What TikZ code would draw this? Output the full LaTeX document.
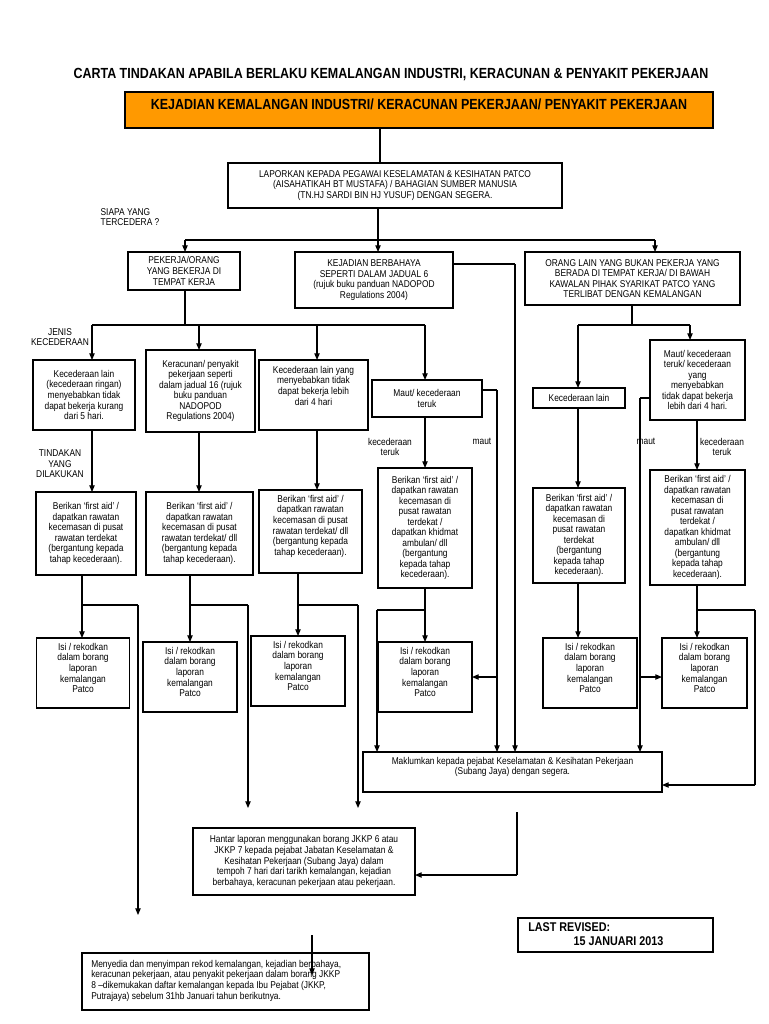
\documentclass[tikz,border=0pt]{standalone}
\usepackage{fontspec}
\setmainfont{Liberation Sans}[FakeStretch=0.85]
\usetikzlibrary{arrows.meta}
\definecolor{orng}{HTML}{FF9900}
\begin{document}
\begin{tikzpicture}[x=0.75pt,y=-0.75pt,
  box/.style={draw,line width=0.8pt,align=center,inner sep=0pt,font=\fontsize{7.4}{7.9}\selectfont},
  lbl/.style={align=center,inner sep=0pt,font=\fontsize{7.4}{7.9}\selectfont},
  ln/.style={line width=0.8pt},
  ar/.style={line width=0.8pt,-{Triangle[length=5pt,width=4pt]}},
  wh/.style 2 args={minimum width=#1*0.75pt,minimum height=#2*0.75pt}]
\useasboundingbox (0,0) rectangle (768,1024);
\node[inner sep=0pt,font=\fontsize{11}{12}\bfseries\selectfont] (title) at (391,75) {CARTA TINDAKAN APABILA BERLAKU KEMALANGAN INDUSTRI, KERACUNAN \& PENYAKIT PEKERJAAN};
\node[box,fill=orng,wh={588}{36}] (or) at (419,110) {};
\node[inner sep=0pt,font=\fontsize{11}{12}\bfseries\selectfont] (ort) at (419,104) {KEJADIAN KEMALANGAN INDUSTRI/ KERACUNAN PEKERJAAN/ PENYAKIT PEKERJAAN};
\node[box,wh={334}{45}] (lap) at (395,185.5) {LAPORKAN KEPADA PEGAWAI KESELAMATAN \& KESIHATAN PATCO\\(AISAHATIKAH BT MUSTAFA) / BAHAGIAN SUMBER MANUSIA\\(TN.HJ SARDI BIN HJ YUSUF) DENGAN SEGERA.};
\node[lbl,align=left] (siapa) at (130,217) {SIAPA YANG\\TERCEDERA ?};
\node[box,wh={112}{38}] (A) at (184,271) {PEKERJA/ORANG\\YANG BEKERJA DI\\TEMPAT KERJA};
\node[box,wh={158}{56}] (B) at (374,280) {KEJADIAN BERBAHAYA\\SEPERTI DALAM JADUAL 6\\(rujuk buku panduan NADOPOD\\Regulations 2004)};
\node[box,wh={215}{53}] (C) at (632.5,278.5) {ORANG LAIN YANG BUKAN PEKERJA YANG\\BERADA DI TEMPAT KERJA/ DI BAWAH\\KAWALAN PIHAK SYARIKAT PATCO YANG\\TERLIBAT DENGAN KEMALANGAN};
\node[lbl] (jenis) at (60,337) {JENIS\\KECEDERAAN};
\node[box,wh={102}{70}] (K1) at (84,395) {Kecederaan lain\\(kecederaan ringan)\\menyebabkan tidak\\dapat bekerja kurang\\dari 5 hari.};
\node[box,wh={109}{82}] (K2) at (200.5,391) {Keracunan/ penyakit\\pekerjaan seperti\\dalam jadual 16 (rujuk\\buku panduan\\NADOPOD\\Regulations 2004)};
\node[box,wh={109}{70}] (K3) at (313.5,395) {};
\node[lbl,anchor=north] (K3t) at (313.5,366) {Kecederaan lain yang\\menyebabkan tidak\\dapat bekerja lebih\\dari 4 hari};
\node[box,wh={110}{37}] (M1) at (427,398.5) {Maut/ kecederaan\\teruk};
\node[lbl] (tind) at (60,464) {TINDAKAN\\YANG\\DILAKUKAN};
\node[lbl] (kt1) at (390,447) {kecederaan\\teruk};
\node[lbl] (maut1) at (482,441) {maut};
\node[box,wh={100}{83}] (F1) at (86,533.5) {Berikan `first aid' /\\dapatkan rawatan\\kecemasan di pusat\\rawatan terdekat\\(bergantung kepada\\tahap kecederaan).};
\node[box,wh={107}{83}] (F2) at (199.5,533.5) {Berikan `first aid' /\\dapatkan rawatan\\kecemasan di pusat\\rawatan terdekat/ dll\\(bergantung kepada\\tahap kecederaan).};
\node[box,wh={103}{83}] (F3) at (310.5,531.5) {};
\node[lbl,anchor=north] (F3t) at (310.5,495) {Berikan `first aid' /\\dapatkan rawatan\\kecemasan di pusat\\rawatan terdekat/ dll\\(bergantung kepada\\tahap kecederaan).};
\node[box,wh={94}{120}] (F4) at (425,528) {Berikan `first aid' /\\dapatkan rawatan\\kecemasan di\\pusat rawatan\\terdekat /\\dapatkan khidmat\\ambulan/ dll\\(bergantung\\kepada tahap\\kecederaan).};
\node[box,wh={92}{20}] (KL2) at (579,398) {Kecederaan lain};
\node[box,wh={95}{80}] (M2) at (697.5,380) {Maut/ kecederaan\\teruk/ kecederaan\\yang\\menyebabkan\\tidak dapat bekerja\\lebih dari 4 hari.};
\node[lbl] (maut2) at (646,441) {maut};
\node[lbl] (kt2) at (722,447) {kecederaan\\teruk};
\node[box,wh={92}{95}] (F5) at (579,535.5) {Berikan `first aid' /\\dapatkan rawatan\\kecemasan di\\pusat rawatan\\terdekat\\(bergantung\\kepada tahap\\kecederaan).};
\node[box,wh={95}{115}] (F6) at (697.5,527.5) {Berikan `first aid' /\\dapatkan rawatan\\kecemasan di\\pusat rawatan\\terdekat /\\dapatkan khidmat\\ambulan/ dll\\(bergantung\\kepada tahap\\kecederaan).};
\foreach \n/\x/\y/\w in {I1/83/673/93, I2/190/677/94, I3/298/671/94, I4/425/677/94, I5/590/673/94, I6/704.5/673/85}{
  \node[box,wh={\w}{70}] (\n) at (\x,\y) {};
  \node[lbl,anchor=north] (\n t) at (\x,\y-30) {Isi / rekodkan\\dalam borang\\laporan\\kemalangan\\Patco};}
\node[box,wh={299}{40}] (mak) at (512.5,772) {};
\node[lbl,anchor=north] (makt) at (512.5,757) {Maklumkan kepada pejabat Keselamatan \& Kesihatan Pekerjaan\\(Subang Jaya)  dengan segera.};
\node[box,wh={222}{67}] (han) at (304,861.5) {Hantar laporan menggunakan borang JKKP 6 atau\\JKKP 7 kepada pejabat Jabatan Keselamatan \&\\Kesihatan Pekerjaan (Subang Jaya)  dalam\\tempoh 7 hari dari tarikh kemalangan, kejadian\\berbahaya, keracunan pekerjaan atau pekerjaan.};
\node[box,wh={195}{34}] (last) at (615.5,935) {};
\node[inner sep=0pt,anchor=north west,align=left,font=\fontsize{9.5}{11}\bfseries\selectfont] (lastt) at (528,922) {LAST REVISED:\\\hspace*{34pt}15 JANUARI 2013};
\node[box,wh={287}{57}] (meny) at (225.5,981.5) {};
\node[lbl,anchor=north west,align=left] (menyt) at (91,960) {Menyedia dan menyimpan rekod kemalangan, kejadian berbahaya,\\keracunan pekerjaan, atau penyakit pekerjaan dalam borang JKKP\\8 --dikemukakan daftar kemalangan kepada Ibu Pejabat (JKKP,\\Putrajaya) sebelum 31hb Januari tahun berikutnya.};
% connectors
\draw[ln] (380,128) -- (380,163);
\draw[ln] (378,208) -- (378,240);
\draw[ln] (185,240) -- (655,240);
\draw[ar] (185,240) -- (185,252);
\draw[ar] (378,240) -- (378,252);
\draw[ar] (655,240) -- (655,252);
\draw[ln] (185,290) -- (185,325);
\draw[ln] (92,325) -- (425,325);
\draw[ar] (92,325) -- (92,360);
\draw[ar] (199,325) -- (199,350);
\draw[ar] (317,325) -- (317,360);
\draw[ar] (425,325) -- (425,380);
\draw[ar] (92,430) -- (92,492);
\draw[ar] (199,432) -- (199,492);
\draw[ar] (317,430) -- (317,490);
\draw[ar] (425,417) -- (425,468);
\draw[ln] (632,305) -- (632,325);
\draw[ln] (578,325) -- (690,325);
\draw[ar] (578,325) -- (578,388);
\draw[ar] (690,325) -- (690,340);
\draw[ar] (578,408) -- (578,488);
\draw[ar] (697,420) -- (697,470);
\draw[ar] (82,575) -- (82,638);
\draw[ln] (82,605) -- (138,605);
\draw[ar] (138,605) -- (138,915);
\draw[ar] (190,575) -- (190,642);
\draw[ln] (190,605) -- (248,605);
\draw[ar] (248,605) -- (248,808);
\draw[ar] (298,573) -- (298,636);
\draw[ln] (298,605) -- (358,605);
\draw[ar] (358,605) -- (358,808);
\draw[ar] (425,588) -- (425,642);
\draw[ln] (425,610) -- (377,610);
\draw[ar] (377,610) -- (377,752);
\draw[ar] (578,583) -- (578,638);
\draw[ar] (697,585) -- (697,638);
\draw[ln] (697,610) -- (755,610);
\draw[ln] (755,610) -- (755,785);
\draw[ar] (755,785) -- (662,785);
\draw[ln] (482,390) -- (497,390);
\draw[ar] (497,390) -- (497,752);
\draw[ln] (453,264) -- (515,264);
\draw[ar] (515,264) -- (515,752);
\draw[ar] (497,677) -- (472,677);
\draw[ln] (650,398) -- (640,398);
\draw[ar] (640,398) -- (640,752);
\draw[ar] (640,677) -- (662,677);
\draw[ln] (517,812) -- (517,875);
\draw[ar] (517,875) -- (415,875);
\draw[ar] (312,935) -- (312,975);
\end{tikzpicture}
\end{document}
